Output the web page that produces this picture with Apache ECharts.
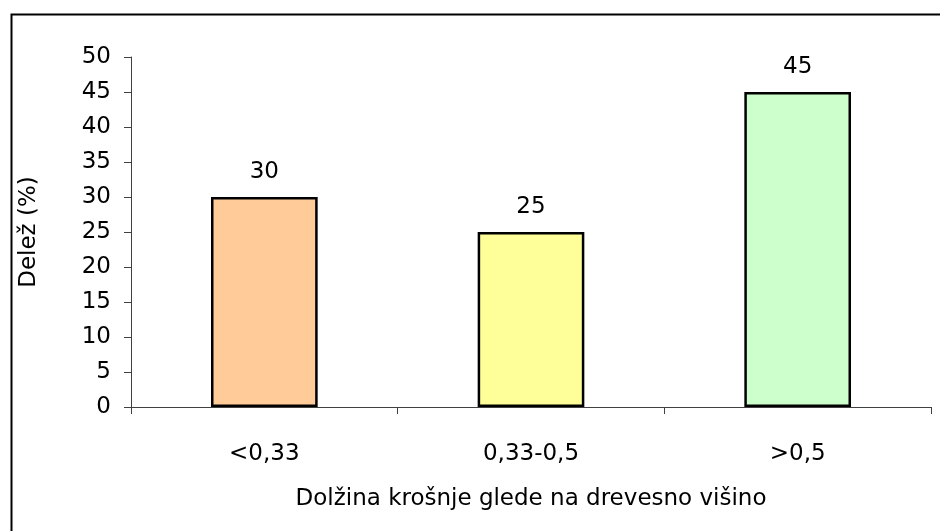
<!DOCTYPE html>
<html>
<head>
<meta charset="utf-8">
<script src="https://cdn.jsdelivr.net/npm/echarts@6/dist/echarts.min.js"></script>
<style>
  html, body { margin: 0; padding: 0; background: #fff; }
  #chart { width: 940px; height: 531px; }
</style>
</head>
<body>
<div id="chart"></div>
<script>
var categories = ['<0,33', '0,33-0,5', '>0,5'];
var shares = [30, 25, 45];
var barColors = ['#FFCC99', '#FFFF99', '#CCFFCC'];

var font = 'DejaVu Sans';
var fs = 23;
var chart = echarts.init(document.getElementById('chart'));

chart.setOption({
    animation: false,
    textStyle: { fontFamily: font },
    graphic: [{
        type: 'rect',
        left: 9,
        top: 12,
        shape: { width: 1000, height: 600 },
        style: { fill: 'none', stroke: '#000', lineWidth: 2 },
        silent: true
    }],
    grid: { left: 131, right: 9, top: 57, bottom: 124 },
    xAxis: {
        type: 'category',
        data: categories,
        name: 'Dolžina krošnje glede na drevesno višino',
        nameLocation: 'middle',
        nameGap: 81,
        nameTextStyle: { fontSize: fs, color: '#000', fontFamily: font },
        axisLine: { lineStyle: { color: '#404040', width: 1 } },
        axisTick: { show: true, length: 7, lineStyle: { color: '#404040' } },
        axisLabel: { fontSize: fs, color: '#000', margin: 36, fontFamily: font }
    },
    yAxis: {
        type: 'value',
        min: 0,
        max: 50,
        interval: 5,
        name: 'Delež (%)',
        nameLocation: 'middle',
        nameGap: 90,
        nameTextStyle: { fontSize: fs, color: '#000', fontFamily: font },
        splitLine: { show: false },
        axisLine: { show: true, lineStyle: { color: '#404040', width: 1 } },
        axisTick: { show: true, length: 7, lineStyle: { color: '#404040' } },
        axisLabel: { fontSize: fs, color: '#000', margin: 20, fontFamily: font }
    },
    series: [{
        type: 'bar',
        barWidth: '40%',
        data: shares.map(function (v, i) {
            return {
                value: v,
                itemStyle: { color: barColors[i] }
            };
        }),
        itemStyle: { borderColor: '#000', borderWidth: 2.5 },
        label: {
            show: true,
            position: 'top',
            distance: 13,
            fontSize: fs,
            color: '#000',
            fontFamily: font
        }
    }]
});
</script>
</body>
</html>
